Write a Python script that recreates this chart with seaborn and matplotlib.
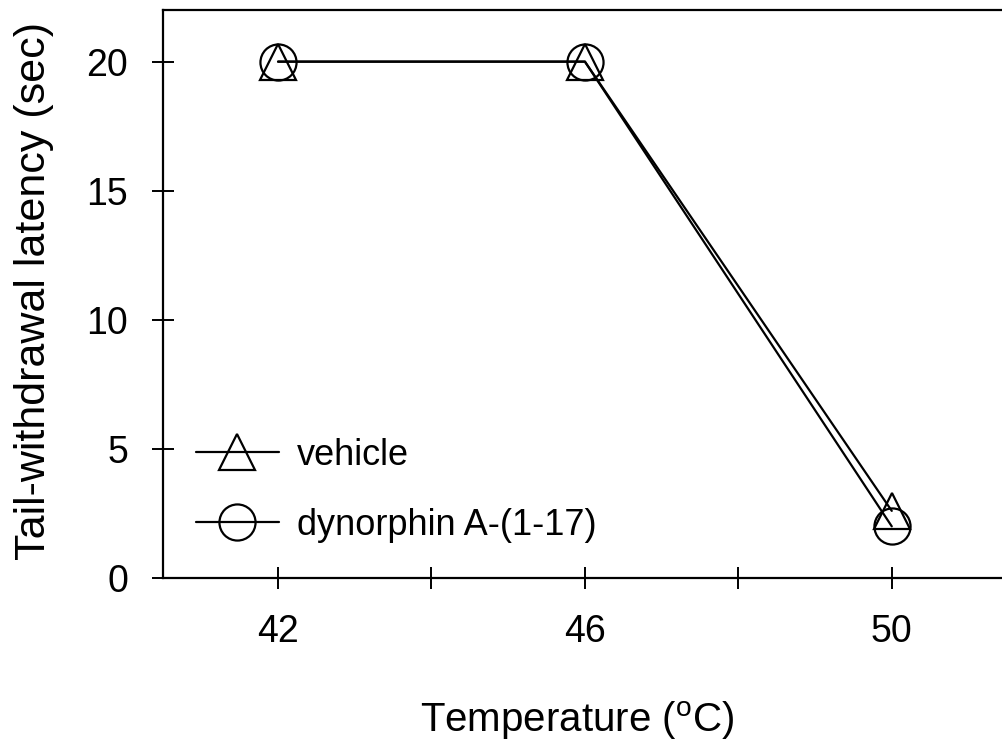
import matplotlib
matplotlib.use('Agg')
import matplotlib.pyplot as plt
import seaborn as sns
import pandas as pd

# data
temperature = [42, 46, 50]
vehicle = [20.0, 20.0, 2.6]
dynorphin = [20.0, 20.0, 2.0]
xtick_pos = [42, 44, 46, 48, 50]
xtick_labels = ['42', '', '46', '', '50']
ytick_pos = [0, 5, 10, 15, 20]

sns.set_theme(style='ticks', rc={'text.color': 'black', 'axes.labelcolor': 'black',
                                 'xtick.color': 'black', 'ytick.color': 'black'})
plt.rcParams['font.family'] = ['Liberation Sans', 'DejaVu Sans']
plt.rcParams['mathtext.default'] = 'regular'

df = pd.DataFrame({
    'temp': temperature * 2,
    'latency': vehicle + dynorphin,
    'group': ['vehicle'] * 3 + ['dynorphin A-(1-17)'] * 3,
})

fig = plt.figure(figsize=(10.03, 7.49), dpi=100)
ax = fig.add_axes([163 / 1003, 171 / 749, 840 / 1003, 568 / 749])

styles = {'vehicle': '^', 'dynorphin A-(1-17)': 'o'}
for name, marker in styles.items():
    sub = df[df['group'] == name]
    sns.lineplot(data=sub, x='temp', y='latency', ax=ax, color='black',
                 marker=marker, markersize=26, fillstyle='none',
                 markeredgewidth=1.6, markeredgecolor='black',
                 linewidth=1.6, label=name, sort=False)

ax.set_xlim(40.5, 51.45)
ax.set_ylim(0, 22)
ax.set_xticks(xtick_pos)
ax.set_xticklabels(xtick_labels)
ax.set_yticks(ytick_pos)
ax.tick_params(direction='inout', length=16, width=1.4, labelsize=27,
               colors='black')
ax.tick_params(axis='x', pad=18)
ax.tick_params(axis='y', pad=17)
for side in ['left', 'bottom', 'top']:
    ax.spines[side].set_linewidth(1.6)
    ax.spines[side].set_color('black')
ax.spines['right'].set_visible(False)

ax.set_xlabel('Temperature ($^{o}$C)', fontsize=29)
ax.set_ylabel('Tail-withdrawal latency (sec)', fontsize=31)
ax.xaxis.set_label_coords(0.493, -0.214)
ax.yaxis.set_label_coords(-0.13, 0.505)

leg = ax.legend(loc='lower left', bbox_to_anchor=(0.022, 0.037), borderaxespad=0,
                frameon=False, fontsize=26,
                handlelength=2.3, labelspacing=0.97, handletextpad=0.5)

fig.savefig('out.png', dpi=100)
